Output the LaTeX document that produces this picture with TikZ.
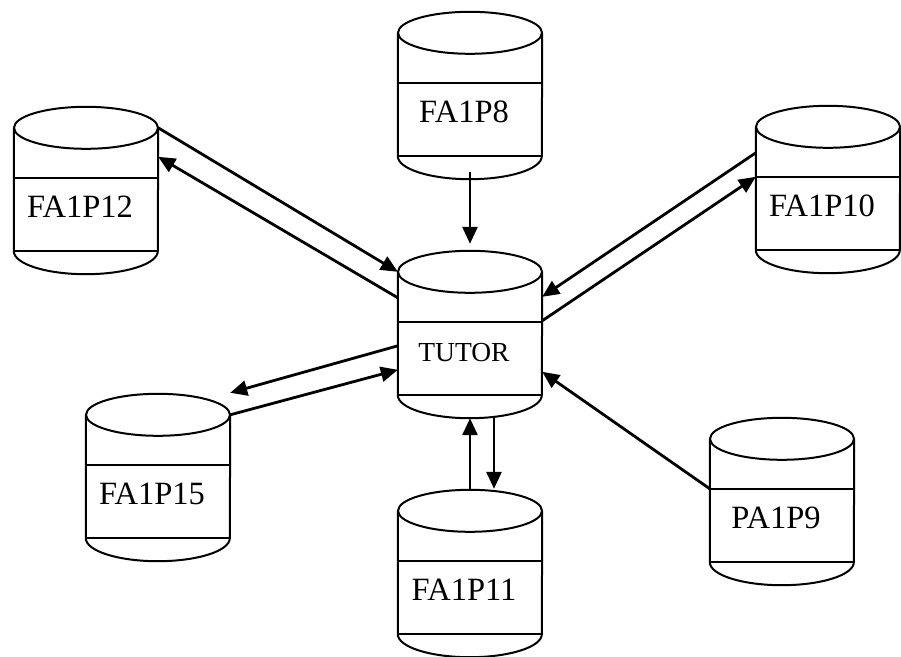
\documentclass[tikz,border=0pt]{standalone}
\usepackage{fontspec}
\setmainfont{Liberation Serif}
\usetikzlibrary{arrows.meta}

\tikzset{
  cylbody/.style={rectangle, inner sep=0pt, minimum width=144pt, minimum height=123pt, draw=none},
  cylline/.style={line width=2pt, line join=round},
  conn/.style={line width=2.8pt, -{Triangle[length=17pt,width=15pt]}},
  lbl/.style={font=\fontsize{32.5}{32.5}\selectfont, anchor=base, inner sep=0pt},
  tlbl/.style={font=\fontsize{27.5}{27.5}\selectfont, anchor=base, inner sep=0pt},
}

\newcommand{\drawcyl}[5]{%
  \node[cylbody] (#1) at (#2, #3+61.5) {};
  \draw[cylline] (#1.north west) -- (#1.south west)
     arc[start angle=180, end angle=360, x radius=72pt, y radius=23pt] -- (#1.north east);
  \draw[cylline] (#1.north) ellipse[x radius=72pt, y radius=21pt];
  \draw[cylline] ([yshift=-50pt]#1.north west) -- ([yshift=-50pt]#1.north east);
  \draw[cylline] (#1.south west) -- (#1.south east);
  \node[#5] (#1-t) at (#2-6, #3+89) {#4};
}

\begin{document}
\begin{tikzpicture}[x=1pt, y=-1pt]
\useasboundingbox (0,0) rectangle (901,656);

\drawcyl{fa8}{470}{33}{FA1P8}{lbl}
\drawcyl{fa12}{86}{128}{FA1P12}{lbl}
\drawcyl{fa10}{828}{127}{FA1P10}{lbl}
\drawcyl{tutor}{470}{272}{TUTOR}{tlbl}
\drawcyl{fa15}{158}{415}{FA1P15}{lbl}
\drawcyl{fa11}{470}{511}{FA1P11}{lbl}
\drawcyl{pa9}{782}{439}{PA1P9}{lbl}

\draw[conn] ([yshift=-16pt]fa8.south) -- ([yshift=28pt]tutor.north);
\draw[conn] (fa12.north east) -- (tutor.north west);
\draw[conn] ([yshift=-26pt]tutor.north west) -- ([yshift=-29pt]fa12.north east);
\draw[conn] ([yshift=-26pt]fa10.north west) -- ([yshift=-25pt]tutor.north east);
\draw[conn] ([yshift=-49pt]tutor.north east) -- ([yshift=-50pt]fa10.north west);
\draw[conn] ([yshift=-74pt]tutor.north west) -- ([yshift=22pt]fa15.north east);
\draw[conn] (fa15.north east) -- ([yshift=-98pt]tutor.north west);
\draw[conn] ([yshift=21pt]fa11.north) -- ([yshift=-23pt]tutor.south);
\draw[conn] ([xshift=24pt,yshift=-22pt]tutor.south) -- ([xshift=24pt,yshift=22pt]fa11.north);
\draw[conn] ([yshift=-50pt]pa9.north west) -- ([yshift=-100pt]tutor.north east);
\end{tikzpicture}
\end{document}
